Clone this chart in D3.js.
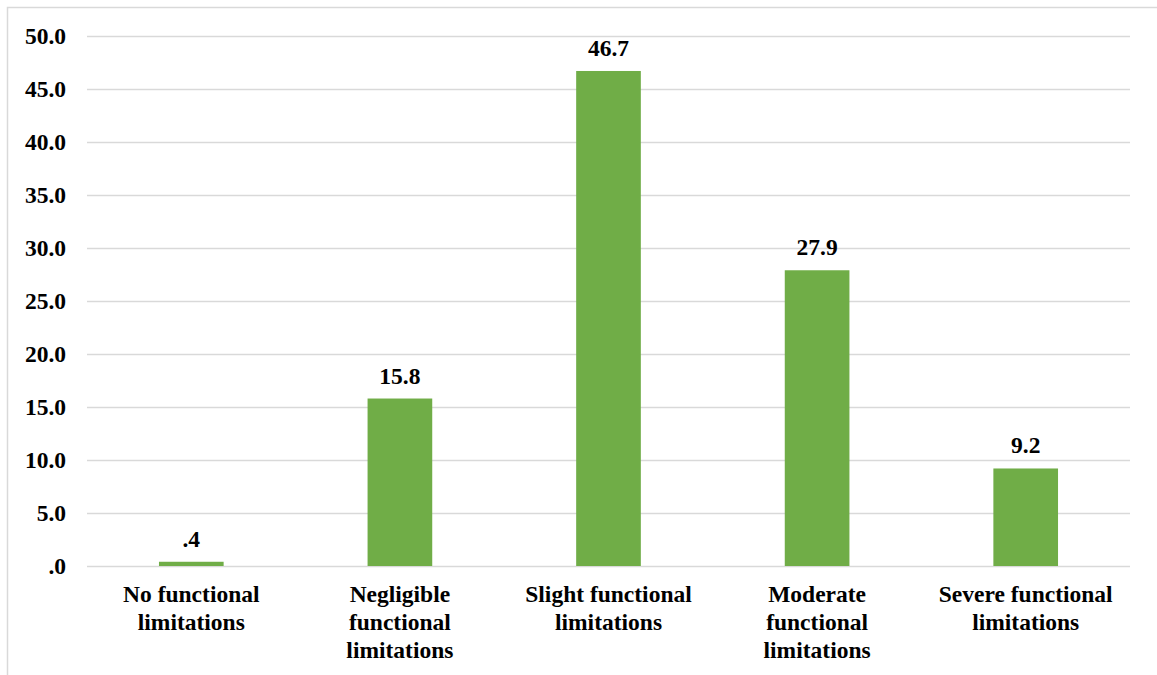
<!DOCTYPE html>
<html lang="en">
<head>
  <meta charset="UTF-8">
  <title>Functional limitations</title>
  <script src="https://d3js.org/d3.v7.min.js"></script>
  <style type="text/css">
    body { margin: 0; background: #fff; }
    text { font-family: "Liberation Serif", "Times New Roman", serif; font-weight: bold; fill: #000; }
  </style>
</head>
<body>
<script type="text/javascript">
  var categories = ["No functional limitations", "Negligible functional limitations",
                    "Slight functional limitations", "Moderate functional limitations",
                    "Severe functional limitations"];
  var values = [0.4, 15.8, 46.7, 27.9, 9.2];
  var yTicks = [0, 5, 10, 15, 20, 25, 30, 35, 40, 45, 50];

  var width = 1157, height = 675;
  var plotL = 87, plotR = 1130, plotT = 36, plotB = 566;
  var fs = 23.5;

  var svg = d3.select("body").append("svg")
    .attr("width", width)
    .attr("height", height);

  // chart border (runs off the right and bottom edge)
  svg.append("rect")
    .attr("x", 7.5).attr("y", 7.5)
    .attr("width", width).attr("height", height)
    .attr("fill", "none")
    .attr("stroke", "#d9d9d9")
    .attr("stroke-width", 1.5);

  var x = d3.scaleBand().domain(categories).range([plotL, plotR]).paddingInner(0.69).paddingOuter(0.345);
  var y = d3.scaleLinear().domain([0, 50]).range([plotB, plotT]);

  function fmt(v) {
    var s = v.toFixed(1);
    return s.charAt(0) === "0" ? s.slice(1) : s;
  }

  // gridlines + tick labels
  var yAxis = svg.append("g")
    .attr("transform", "translate(" + plotL + ",0)")
    .call(d3.axisLeft(y).tickValues(yTicks).tickFormat(fmt).tickSize(-(plotR - plotL)).tickPadding(21));
  yAxis.select(".domain").remove();
  yAxis.selectAll(".tick line").attr("stroke", "#d9d9d9").attr("stroke-width", 1.5);
  yAxis.selectAll(".tick text").attr("font-size", fs).attr("font-family", null);

  // bars
  svg.selectAll("rect.bar")
    .data(values)
    .enter().append("rect")
    .attr("class", "bar")
    .attr("x", function(d, i) { return x(categories[i]); })
    .attr("width", x.bandwidth())
    .attr("y", function(d) { return y(d); })
    .attr("height", function(d) { return y(0) - y(d); })
    .attr("fill", "#70ad47");

  // value labels
  svg.selectAll("text.val")
    .data(values)
    .enter().append("text")
    .attr("class", "val")
    .attr("x", function(d, i) { return x(categories[i]) + x.bandwidth() / 2; })
    .attr("y", function(d) { return y(d) - 15; })
    .attr("text-anchor", "middle")
    .attr("font-size", fs)
    .text(function(d) { return fmt(d); });

  // category labels, wrapped like Excel
  var maxW = 190;
  categories.forEach(function(c) {
    var cx = x(c) + x.bandwidth() / 2;
    var t = svg.append("text")
      .attr("text-anchor", "middle")
      .attr("font-size", fs)
      .attr("x", cx)
      .attr("y", 602);
    var words = c.split(" "), line = [];
    var tspan = t.append("tspan").attr("x", cx).attr("dy", 0);
    words.forEach(function(w) {
      line.push(w);
      tspan.text(line.join(" "));
      if (tspan.node().getComputedTextLength() > maxW && line.length > 1) {
        line.pop();
        tspan.text(line.join(" "));
        line = [w];
        tspan = t.append("tspan").attr("x", cx).attr("dy", 28).text(w);
      }
    });
  });
</script>
</body>
</html>
